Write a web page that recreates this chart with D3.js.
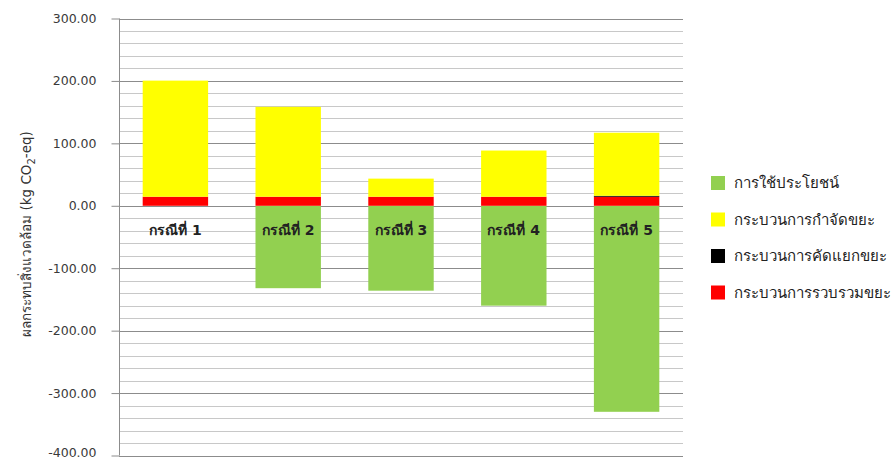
<!DOCTYPE html>
<html>
<head>
<meta charset="utf-8">
<script src="https://cdn.jsdelivr.net/npm/d3@7"></script>
<style>
  body { margin: 0; background: #fff; }
  svg { display: block; }
  text { font-family: Tahoma, "DejaVu Sans", "Noto Sans", sans-serif; }
</style>
</head>
<body>
<svg id="chart" width="892" height="461"></svg>
<script>
const categories = ["กรณีที่ 1", "กรณีที่ 2", "กรณีที่ 3", "กรณีที่ 4", "กรณีที่ 5"];
const utilization = [0, -132, -136, -160, -330];       // การใช้ประโยชน์
const disposal = [186, 144, 29, 74, 101];              // กระบวนการกำจัดขยะ
const sorting = [0, 0, 0, 0, 1.5];                     // กระบวนการคัดแยกขยะ
const collection = [14.5, 14.5, 14.5, 14.5, 14.5];     // กระบวนการรวบรวมขยะ
const yTicks = [300, 200, 100, 0, -100, -200, -300, -400];
const seriesNames = ["การใช้ประโยชน์", "กระบวนการกำจัดขยะ", "กระบวนการคัดแยกขยะ", "กระบวนการรวบรวมขยะ"];
const seriesColors = ["#92d050", "#ffff00", "#000000", "#ff0000"];

const svg = d3.select("#chart");
const pLeft = 119, pRight = 683, pTop = 18.5, pBottom = 455.5;

const x = d3.scaleBand().domain(categories).range([pLeft, pRight]).paddingInner(0.42).paddingOuter(0.21);
const y = d3.scaleLinear().domain([-400, 300]).range([pBottom, pTop]);

// gridlines
const minor = d3.range(-400, 301, 20);
svg.append("g").selectAll("line").data(minor).join("line")
  .attr("x1", pLeft).attr("x2", pRight)
  .attr("y1", d => Math.round(y(d)) + 0.5).attr("y2", d => Math.round(y(d)) + 0.5)
  .attr("stroke", d => d % 100 === 0 ? "#8c8c8c" : "#c8c8c8")
  .attr("stroke-width", 1);

// bars
const g = svg.append("g");
categories.forEach((c, i) => {
  const bx = x(c), bw = x.bandwidth();
  if (utilization[i] < 0) {
    g.append("rect").attr("x", bx).attr("width", bw)
      .attr("y", y(0)).attr("height", y(utilization[i]) - y(0))
      .attr("fill", seriesColors[0]);
  }
  let base = 0;
  [[collection[i], seriesColors[3]], [sorting[i], seriesColors[2]], [disposal[i], seriesColors[1]]].forEach(([v, col]) => {
    if (v > 0) {
      g.append("rect").attr("x", bx).attr("width", bw)
        .attr("y", y(base + v)).attr("height", y(base) - y(base + v))
        .attr("fill", col);
    }
    base += v;
  });
});

// y axis
const yAxis = d3.axisLeft(y).tickValues(yTicks).tickSize(8).tickFormat(d => d.toFixed(2));
const ya = svg.append("g").attr("transform", `translate(${pLeft + 0.5},0)`).call(yAxis);
ya.select(".domain").attr("stroke", "#8c8c8c").attr("d", `M0,${pTop}V${pBottom}`);
ya.selectAll(".tick line").attr("stroke", "#8c8c8c");
ya.selectAll(".tick text").attr("x", -23).attr("fill", "#3a3a3a")
  .attr("dy", d => d === -400 ? "0.1em" : "0.32em")
  .style("font-size", "12.5px").style("font-family", "Tahoma, 'DejaVu Sans', sans-serif");

// category labels
svg.append("g").selectAll("text").data(categories).join("text")
  .attr("x", d => x(d) + x.bandwidth() / 2)
  .attr("y", y(0) + 29)
  .attr("text-anchor", "middle")
  .attr("fill", "#222")
  .style("font-size", "14px")
  .style("font-weight", "bold")
  .text(d => d);

// y title
const yt = svg.append("text")
  .attr("transform", "translate(31,234) rotate(-90)")
  .attr("text-anchor", "middle")
  .attr("fill", "#333")
  .style("font-size", "13.5px");
yt.append("tspan").text("ผลกระทบสิ่งแวดล้อม (kg CO");
yt.append("tspan").attr("dy", 4).style("font-size", "10px").text("2");
yt.append("tspan").attr("dy", -4).text("-eq)");

// legend
const lg = svg.append("g");
seriesNames.forEach((n, i) => {
  const cy = 183 + i * 36.5;
  lg.append("rect").attr("x", 711).attr("y", cy - 7).attr("width", 14).attr("height", 14).attr("fill", seriesColors[i]);
  lg.append("text").attr("x", 734).attr("y", cy + 5).attr("fill", "#222")
    .style("font-size", "15px").text(n);
});
</script>
</body>
</html>
